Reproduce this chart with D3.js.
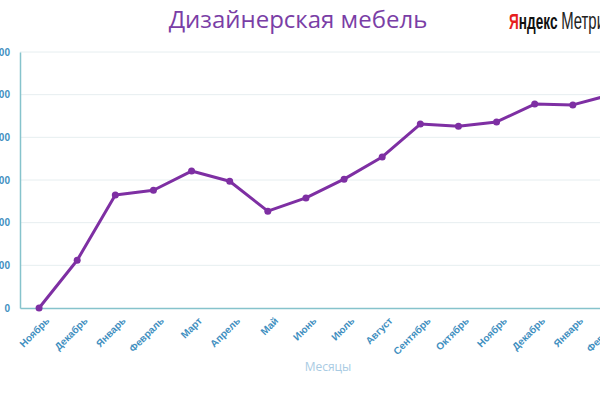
<!DOCTYPE html>
<html>
<head>
<meta charset="utf-8">
<script src="https://cdn.jsdelivr.net/npm/d3@7"></script>
<style>
  body { margin: 0; background: #fff; }
  svg { display: block; font-family: "Open Sans", "Noto Sans", sans-serif; }
</style>
</head>
<body>
<svg id="chart" width="600" height="400"></svg>
<script>
const months = ['Ноябрь', 'Декабрь', 'Январь', 'Февраль', 'Март', 'Апрель', 'Май', 'Июнь',
  'Июль', 'Август', 'Сентябрь', 'Октябрь', 'Ноябрь', 'Декабрь', 'Январь', 'Февраль'];
const visits = [0, 112, 265, 276, 321, 297, 227, 258, 302, 354, 431, 426, 436, 478, 476, 500];
const yTicks = [0, 100, 200, 300, 400, 500, 600];

const svg = d3.select('#chart');
const plotTop = 52, plotBottom = 308, plotLeft = 20;

// months repeat, so the scale works on indices
const x = d3.scalePoint()
  .domain(d3.range(months.length))
  .range([plotLeft, 630])
  .padding(0.5);

const y = d3.scaleLinear()
  .domain([0, 600])
  .range([plotBottom, plotTop]);

// grid
svg.append('g')
  .selectAll('line')
  .data(yTicks.slice(1))
  .join('line')
  .attr('x1', plotLeft).attr('x2', 600)
  .attr('y1', d => y(d)).attr('y2', d => y(d))
  .attr('stroke', '#e6eef0')
  .attr('stroke-width', 1);

// y axis
const yAxis = svg.append('g')
  .attr('transform', `translate(${plotLeft},0)`)
  .call(d3.axisLeft(y).tickValues(yTicks).tickSize(0).tickPadding(10));
yAxis.select('.domain').attr('stroke', '#86c3cc').attr('stroke-width', 1.5);
yAxis.selectAll('text')
  .attr('fill', '#3f8fbf')
  .style('font-size', '10px')
  .style('font-weight', '600');

// x axis
const xAxis = svg.append('g')
  .attr('transform', `translate(0,${plotBottom})`)
  .call(d3.axisBottom(x).tickFormat(i => months[i]).tickSize(0));
xAxis.select('.domain').attr('stroke', '#86c3cc').attr('stroke-width', 1.5);
xAxis.selectAll('text')
  .attr('fill', '#3f8fbf')
  .style('font-size', '10px')
  .style('font-weight', '600')
  .attr('text-anchor', 'end')
  .attr('dx', '-2')
  .attr('dy', '14')
  .attr('transform', 'rotate(-45)');

// the line
const line = d3.line()
  .x((d, i) => x(i))
  .y(d => y(d));

svg.append('path')
  .datum(visits)
  .attr('fill', 'none')
  .attr('stroke', '#7e2fa3')
  .attr('stroke-width', 3)
  .attr('stroke-linejoin', 'round')
  .attr('d', line);

svg.append('g')
  .selectAll('circle')
  .data(visits)
  .join('circle')
  .attr('cx', (d, i) => x(i))
  .attr('cy', d => y(d))
  .attr('r', 3.5)
  .attr('fill', '#7e2fa3');

// titles
svg.append('text')
  .attr('x', 298).attr('y', 28)
  .attr('text-anchor', 'middle')
  .attr('fill', '#7a3ea6')
  .style('font-size', '24px')
  .text('Дизайнерская мебель');

svg.append('text')
  .attr('x', 328).attr('y', 371)
  .attr('text-anchor', 'middle')
  .attr('fill', '#a9cbe3')
  .style('font-size', '12px')
  .text('Месяцы');

// Яндекс Метрика logo text, squeezed to look condensed
const logo = svg.append('text')
  .attr('transform', 'translate(509,29) scale(0.62,1)')
  .style('font-family', '"Liberation Sans", sans-serif')
  .style('font-size', '22px');
logo.append('tspan').attr('fill', '#e61e1e').style('font-weight', 'bold').text('Я');
logo.append('tspan').attr('fill', '#111').style('font-weight', 'bold').text('ндекс');
logo.append('tspan').attr('fill', '#222').attr('dx', 6).style('font-size', '24px').text('Метрика');
</script>
</body>
</html>
